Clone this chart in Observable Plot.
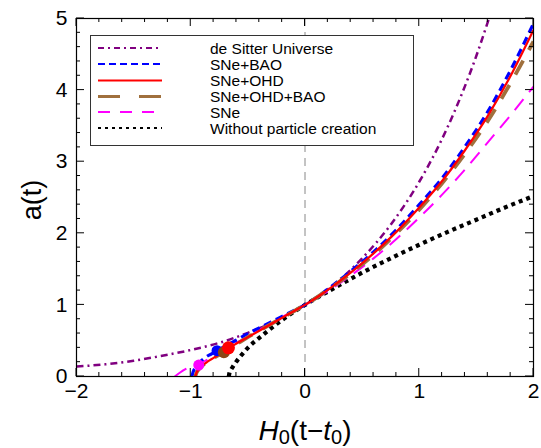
<!DOCTYPE html>
<html><head><meta charset="utf-8">
<script src="https://cdn.jsdelivr.net/npm/d3@7"></script>
<script src="https://cdn.jsdelivr.net/npm/@observablehq/plot@0.6"></script>
<style>body{margin:0;background:#fff;overflow:hidden} #chart{width:541px;height:448px;}</style>
</head><body><div id="chart"></div>
<script>
// ---- data ----
const deSitterX = [-2, -1.75, -1.5, -1.25, -1, -0.75, -0.5, -0.25, 0, 0.25, 0.5, 0.75, 1, 1.25, 1.5, 1.61];
const deSitterA = [0.14, 0.17, 0.22, 0.29, 0.37, 0.47, 0.61, 0.78, 1, 1.28, 1.65, 2.12, 2.72, 3.49, 4.48, 5.0];

const bao_X = [-0.99, -0.98, -0.96, -0.94, -0.9, -0.85, -0.8, -0.77, -0.7, -0.6, -0.5, -0.4, -0.3, -0.2, -0.1, 0, 0.2, 0.4, 0.6, 0.8, 1.0, 1.2, 1.4, 1.6, 1.8, 2.0];
const bao_A = [0, 0.06, 0.12, 0.17, 0.23, 0.29, 0.33, 0.36, 0.42, 0.51, 0.60, 0.68, 0.76, 0.84, 0.92, 1.0, 1.22, 1.47, 1.74, 2.05, 2.40, 2.77, 3.21, 3.70, 4.28, 4.93];

const ohd_X = [-0.96, -0.95, -0.93, -0.9, -0.85, -0.8, -0.73, -0.67, -0.6, -0.5, -0.4, -0.3, -0.2, -0.1, 0, 0.2, 0.4, 0.6, 0.8, 1.0, 1.2, 1.4, 1.6, 1.8, 2.0];
const ohd_A = [0, 0.05, 0.10, 0.15, 0.21, 0.26, 0.33, 0.39, 0.46, 0.55, 0.64, 0.73, 0.82, 0.91, 1.0, 1.21, 1.45, 1.72, 2.02, 2.36, 2.73, 3.16, 3.64, 4.20, 4.84];

const ohdBao_X = [-0.96, -0.95, -0.93, -0.9, -0.85, -0.8, -0.71, -0.6, -0.5, -0.4, -0.3, -0.2, -0.1, 0, 0.2, 0.4, 0.6, 0.8, 1.0, 1.2, 1.4, 1.6, 1.8, 2.0];
const ohdBao_A = [0, 0.05, 0.10, 0.15, 0.21, 0.26, 0.34, 0.45, 0.55, 0.64, 0.73, 0.82, 0.91, 1.0, 1.21, 1.44, 1.70, 2.00, 2.33, 2.70, 3.11, 3.57, 4.10, 4.68];

const sne_X = [-1.14, -1.05, -0.98, -0.93, -0.85, -0.8, -0.7, -0.6, -0.5, -0.4, -0.3, -0.2, -0.1, 0, 0.2, 0.4, 0.6, 0.8, 1.0, 1.2, 1.4, 1.6, 1.8, 2.0];
const sne_A = [0, 0.10, 0.14, 0.17, 0.24, 0.29, 0.38, 0.47, 0.56, 0.65, 0.74, 0.83, 0.915, 1.0, 1.19, 1.41, 1.65, 1.92, 2.22, 2.54, 2.89, 3.27, 3.65, 4.05];

const noCreation_X = [-0.667, -0.66, -0.65, -0.63, -0.6, -0.55, -0.5, -0.4, -0.3, -0.2, -0.1, 0, 0.25, 0.5, 0.75, 1, 1.25, 1.5, 1.75, 2];
const noCreation_A = [0, 0.06, 0.09, 0.14, 0.21, 0.31, 0.40, 0.54, 0.67, 0.79, 0.90, 1.0, 1.23, 1.45, 1.65, 1.84, 2.02, 2.19, 2.36, 2.52];

// transition points (filled circles)
const transitionX = [-0.93, -0.77, -0.71, -0.67];
const transitionA = [0.16, 0.36, 0.34, 0.40];
const transitionSeries = ["SNe", "SNe+BAO", "SNe+OHD+BAO", "SNe+OHD"];

const legendLabels = ["de Sitter Universe", "SNe+BAO", "SNe+OHD", "SNe+OHD+BAO", "SNe", "Without particle creation"];
const xMajor = [-2, -1, 0, 1, 2];
const xMinor = [-1.8, -1.6, -1.4, -1.2, -0.8, -0.6, -0.4, -0.2, 0.2, 0.4, 0.6, 0.8, 1.2, 1.4, 1.6, 1.8];
const yMajor = [0, 1, 2, 3, 4, 5];
const yMinor = [0.2, 0.4, 0.6, 0.8, 1.2, 1.4, 1.6, 1.8, 2.2, 2.4, 2.6, 2.8, 3.2, 3.4, 3.6, 3.8, 4.2, 4.4, 4.6, 4.8];

// ---- styles ----
const styles = {
  "de Sitter Universe": {stroke: "#800080", w: 2.5, dash: "7,4,2,4", lw: 2, ldash: "6,4,2,4"},
  "SNe+BAO": {stroke: "#0000ff", w: 3.2, dash: "8,5", lw: 2, ldash: "7,4"},
  "SNe+OHD": {stroke: "#ff0000", w: 2.2, dash: null, lw: 2, ldash: null},
  "SNe+OHD+BAO": {stroke: "#a0703d", w: 3.8, dash: "16,12", lw: 3, ldash: "22,19"},
  "SNe": {stroke: "#ff00ff", w: 2, dash: "14,9", lw: 2, ldash: "12,10"},
  "Without particle creation": {stroke: "#000000", w: 4.2, dash: "4,4", lw: 2, ldash: "3,4"}
};
const dotColors = {"SNe": "#ff00ff", "SNe+BAO": "#0000ff", "SNe+OHD+BAO": "#8b4513", "SNe+OHD": "#ff0000"};
const dotR = {"SNe": 5.5, "SNe+BAO": 5.5, "SNe+OHD+BAO": 6, "SNe+OHD": 6.5};

const rows = (xs, as) => xs.map((x, i) => ({x, a: as[i]}));
const seriesData = {
  "de Sitter Universe": rows(deSitterX, deSitterA),
  "Without particle creation": rows(noCreation_X, noCreation_A),
  "SNe": rows(sne_X, sne_A),
  "SNe+BAO": rows(bao_X, bao_A),
  "SNe+OHD+BAO": rows(ohdBao_X, ohdBao_A),
  "SNe+OHD": rows(ohd_X, ohd_A)
};
const drawOrder = ["de Sitter Universe", "Without particle creation", "SNe", "SNe+BAO", "SNe+OHD+BAO", "SNe+OHD"];
const dots = transitionX.map((x, i) => ({x, a: transitionA[i], s: transitionSeries[i]}));

const fmt = d => d < 0 ? "\u2212" + Math.abs(d) : String(d);
const FONT = "'Liberation Sans', Arial, Helvetica, sans-serif";

const lineMarks = drawOrder.map(name => {
  const st = styles[name];
  return Plot.line(seriesData[name], {x: "x", y: "a", stroke: st.stroke, strokeWidth: st.w,
    strokeDasharray: st.dash, curve: "monotone-x", clip: true, strokeLinecap: "butt"});
});
const dotMarks = transitionSeries.map(s =>
  Plot.dot(dots.filter(d => d.s === s), {x: "x", y: "a", r: dotR[s], fill: dotColors[s], stroke: "none"}));

const chart = Plot.plot({
  width: 541, height: 448,
  marginLeft: 76, marginRight: 8, marginTop: 18, marginBottom: 72,
  x: {domain: [-2, 2]},
  y: {domain: [0, 5]},
  style: {fontFamily: FONT, background: "#fff", color: "#000"},
  marks: [
    Plot.ruleX([0], {stroke: "#888", strokeWidth: 1, strokeDasharray: "8,6"}),
    ...lineMarks,
    ...dotMarks,
    Plot.axisX(xMajor, {anchor: "bottom", tickSize: 0, tickPadding: 7, fontSize: 21, tickFormat: fmt, label: null}),
    Plot.axisY(yMajor, {anchor: "left", tickSize: 0, tickPadding: 9, fontSize: 21, tickFormat: fmt, label: null}),
    Plot.frame({stroke: "#000", strokeWidth: 1.2})
  ]
});
document.getElementById("chart").appendChild(chart);

// ---- inward ticks on all four sides, positioned through Plot's own scales ----
const svg = d3.select(chart);
const sx = chart.scale("x"), sy = chart.scale("y");
const [xl0, xr0] = sx.range, [yb0, yt0] = sy.range;
const tg = svg.append("g").attr("stroke", "#000").attr("stroke-width", 1);
const tick = (x1, y1, x2, y2) => tg.append("line").attr("x1", x1).attr("y1", y1).attr("x2", x2).attr("y2", y2);
[[xMajor, 8], [xMinor, 4]].forEach(([vals, len]) => vals.forEach(v => {
  const px = sx.apply(v);
  tick(px, yb0, px, yb0 - len);
  tick(px, yt0, px, yt0 + len);
}));
[[yMajor, 8], [yMinor, 4]].forEach(([vals, len]) => vals.forEach(v => {
  const py = sy.apply(v);
  tick(xl0, py, xl0 + len, py);
  tick(xr0, py, xr0 - len, py);
}));

// ---- axis titles and legend ----
svg.append("text").attr("transform", "translate(41,200) rotate(-90)")
  .attr("text-anchor", "middle").attr("font-family", FONT).attr("font-size", 27).attr("fill", "#000")
  .text("a(t)");
const xl = svg.append("text").attr("x", 305).attr("y", 440).attr("text-anchor", "middle")
  .attr("font-family", FONT).attr("font-size", 28).attr("fill", "#000");
xl.append("tspan").attr("font-style", "italic").text("H");
xl.append("tspan").attr("font-size", 20).attr("dy", 4).text("0");
xl.append("tspan").attr("dy", -4).text("(t\u2212");
xl.append("tspan").attr("font-style", "italic").text("t");
xl.append("tspan").attr("font-size", 20).attr("dy", 4).text("0");
xl.append("tspan").attr("dy", -4).text(")");

const lg = svg.append("g");
lg.append("rect").attr("x", 90.5).attr("y", 35.5).attr("width", 323).attr("height", 110)
  .attr("fill", "#fff").attr("stroke", "#333").attr("stroke-width", 1);
const rowY = [48, 64, 80.5, 96.5, 112, 128];
legendLabels.forEach((name, i) => {
  const st = styles[name];
  lg.append("line").attr("x1", 98).attr("x2", 162).attr("y1", rowY[i]).attr("y2", rowY[i])
    .attr("stroke", st.stroke).attr("stroke-width", st.lw)
    .attr("stroke-dasharray", st.ldash || null);
  lg.append("text").attr("x", 210).attr("y", rowY[i]).attr("dy", "0.36em").attr("text-anchor", "start")
    .attr("font-family", FONT).attr("font-size", 15.5).attr("fill", "#000").text(name);
});
</script>
</body></html>
